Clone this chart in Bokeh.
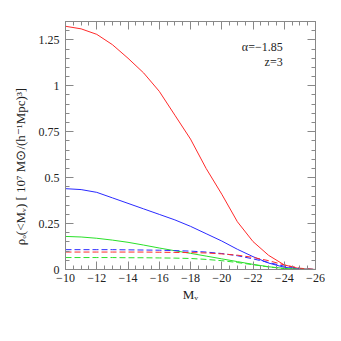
from bokeh.plotting import figure
from bokeh.models import Range1d, FixedTicker, LinearAxis, Label
from bokeh.embed import file_html
from bokeh.resources import INLINE

# Data
mv = [-10, -11, -12, -13, -14, -15, -16, -17, -18, -19, -20, -21, -22, -23, -24, -25, -26]
red_solid = [1.324, 1.31, 1.28, 1.224, 1.15, 1.07, 0.97, 0.84, 0.71, 0.55, 0.41, 0.26, 0.152, 0.077, 0.025, 0.004, 0.0]
blue_solid = [0.44, 0.435, 0.42, 0.39, 0.36, 0.33, 0.30, 0.27, 0.235, 0.195, 0.155, 0.11, 0.07, 0.035, 0.012, 0.002, 0.0]
green_solid = [0.18, 0.177, 0.17, 0.16, 0.148, 0.133, 0.117, 0.102, 0.088, 0.073, 0.058, 0.043, 0.028, 0.015, 0.006, 0.001, 0.0]
blue_dash = [0.108, 0.108, 0.108, 0.108, 0.107, 0.106, 0.105, 0.103, 0.100, 0.095, 0.087, 0.075, 0.058, 0.038, 0.018, 0.005, 0.0]
red_dash = [0.095, 0.095, 0.095, 0.095, 0.095, 0.095, 0.094, 0.093, 0.092, 0.090, 0.085, 0.078, 0.066, 0.048, 0.025, 0.007, 0.0]
green_dash = [0.065, 0.065, 0.065, 0.065, 0.064, 0.064, 0.063, 0.062, 0.060, 0.055, 0.048, 0.038, 0.026, 0.014, 0.005, 0.001, 0.0]

x_ticks = [-10, -12, -14, -16, -18, -20, -22, -24, -26]
x_tick_labels = ["\u221210", "\u221212", "\u221214", "\u221216", "\u221218", "\u221220", "\u221222", "\u221224", "\u221226"]
y_ticks = [0, 0.25, 0.5, 0.75, 1.0, 1.25]
y_tick_labels = ["0", "0.25", "0.5", "0.75", "1", "1.25"]

FONT = "Liberation Serif"
AX = "#888888"
TXT = "#222222"

p = figure(width=325, height=325, output_backend="svg", toolbar_location=None,
           x_range=Range1d(-10, -26), y_range=Range1d(0, 1.35),
           min_border_left=65, min_border_right=10, min_border_top=21, min_border_bottom=56)
p.grid.visible = False
p.outline_line_color = AX

x_minor = [-10 - 0.5 * i for i in range(33)]
y_minor = [round(0.05 * i, 2) for i in range(28)]

p.line(mv, red_solid, line_color="#ff2a2a", line_width=1)
p.line(mv, blue_solid, line_color="#2a2aff", line_width=1)
p.line(mv, green_solid, line_color="#2ae02a", line_width=1)
p.line(mv, blue_dash, line_color="#2a2aff", line_width=1, line_dash="6 3")
p.line(mv, red_dash, line_color="#ff2a2a", line_width=1, line_dash="6 3")
p.line(mv, green_dash, line_color="#2ae02a", line_width=1, line_dash="6 3")

def style(ax):
    ax.axis_line_color = AX
    ax.major_tick_line_color = AX
    ax.minor_tick_line_color = AX
    ax.major_tick_in = 8
    ax.major_tick_out = 0
    ax.minor_tick_in = 4
    ax.minor_tick_out = 0
    ax.major_label_text_font = FONT
    ax.major_label_text_font_size = "12px"
    ax.major_label_text_color = TXT
    ax.axis_label_text_font = FONT
    ax.axis_label_text_font_style = "normal"
    ax.axis_label_text_font_size = "13px"
    ax.axis_label_text_color = TXT

xa = p.xaxis[0]
xa.ticker = FixedTicker(ticks=x_ticks, minor_ticks=x_minor)
xa.major_label_overrides = dict(zip(x_ticks, x_tick_labels))
xa.axis_label = "M\u1d65"
xa.major_label_standoff = 4
xa.axis_label_standoff = 2
style(xa)

ya = p.yaxis[0]
ya.ticker = FixedTicker(ticks=y_ticks, minor_ticks=y_minor)
ya.major_label_overrides = dict(zip(y_ticks, y_tick_labels))
ya.axis_label = "\u03c1\u2092(<M\u1d65)  [ 10\u2077 M\u2299/(h\u207b\u00b9Mpc)\u00b3]" + "\u00a0" * 12
ya.major_label_standoff = 6
ya.axis_label_standoff = 8
style(ya)

top = LinearAxis(ticker=FixedTicker(ticks=x_ticks, minor_ticks=x_minor))
style(top)
top.major_label_overrides = {t: "" for t in x_ticks}
p.add_layout(top, "above")
right = LinearAxis(ticker=FixedTicker(ticks=y_ticks, minor_ticks=y_minor))
style(right)
right.major_label_overrides = {t: "" for t in y_ticks}
p.add_layout(right, "right")

p.add_layout(Label(x=-23.9, y=1.21, text="\u03b1=\u22121.85", text_align="right", text_baseline="middle",
                   text_font=FONT, text_font_size="12px", text_color=TXT))
p.add_layout(Label(x=-23.9, y=1.13, text="z=3", text_align="right", text_baseline="middle",
                   text_font=FONT, text_font_size="12px", text_color=TXT))

open("out.html", "w").write(file_html(p, INLINE))
